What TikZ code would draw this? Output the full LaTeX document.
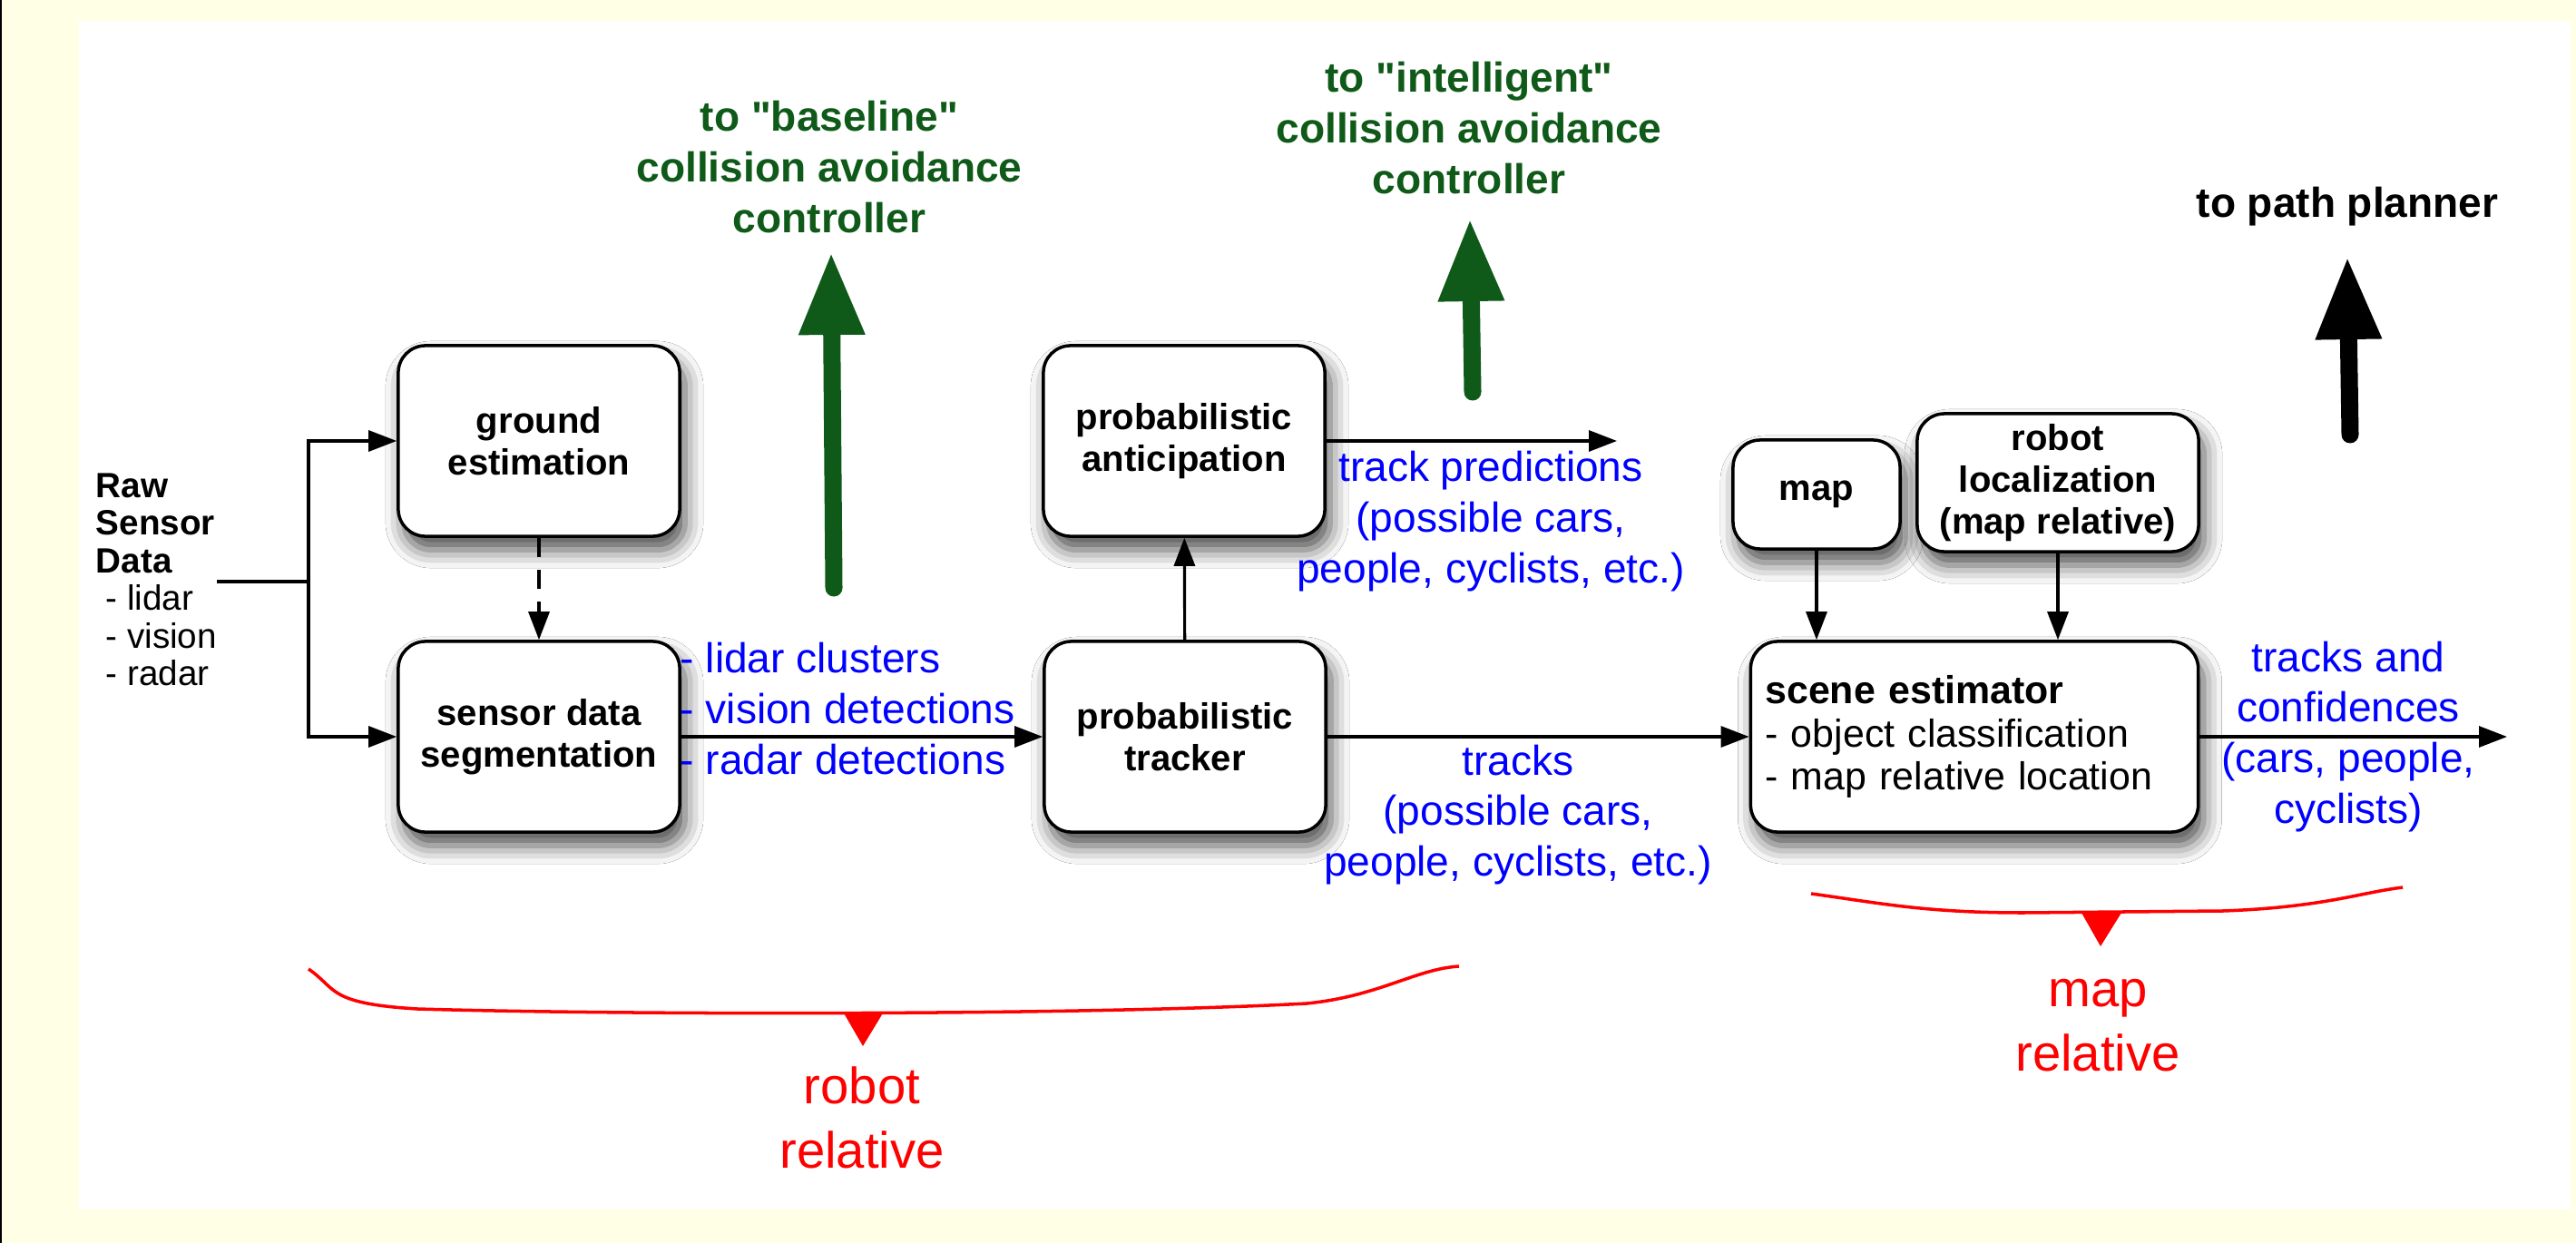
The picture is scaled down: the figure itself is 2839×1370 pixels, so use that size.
\documentclass[tikz,border=0pt]{standalone}
\usepackage{fontspec}
\setmainfont{Liberation Sans}[Ligatures=TeXOff]
\usetikzlibrary{arrows.meta,shadows.blur}

\definecolor{bgyellow}{RGB}{255,255,229}
\definecolor{goalgreen}{RGB}{15,90,25}

\newcommand{\boxfont}{\fontsize{11.4}{13.1}\selectfont\bfseries}
\newcommand{\lblfont}{\fontsize{13.1}{15.9}\selectfont}
\newcommand{\rawfont}{\fontsize{11}{11.8}\selectfont}
\newcommand{\itemfont}{\fontsize{12.2}{13.4}\selectfont}
\newcommand{\zonefont}{\fontsize{16}{20.2}\selectfont}

\tikzset{
  stage/.style={draw, line width=1pt, rounded corners=0.3cm, fill=white,
    blur shadow={shadow xshift=0.06cm, shadow yshift=-0.15cm, shadow blur radius=0.2cm, shadow opacity=70},
    font=\boxfont, align=center, inner sep=2pt, minimum width=3.1cm, minimum height=2.1cm},
  flow/.style={line width=0.9pt, -{Triangle[length=0.31cm,width=0.23cm]}},
  datalabel/.style={text=blue, font=\lblfont, align=center, inner sep=0pt},
  goal/.style={font=\lblfont\bfseries, align=center, inner sep=0pt},
  bigup/.style={line width=0.19cm, line cap=round, -{Triangle[length=0.91cm,width=0.68cm]}},
  brace/.style={red, line width=1pt},
  zone/.style={text=red, font=\zonefont, align=center, inner sep=0pt}
}

\begin{document}
\begin{tikzpicture}[x=0.01cm, y=-0.01cm]

\useasboundingbox (0,0) rectangle (2839,1370);
\fill[bgyellow] (0,0) rectangle (2839,1370);
\fill[white] (87,23) rectangle (2833,1333);
\fill[black] (0,0) rectangle (2,1370);

% processing stages
\node[stage] (ground) at (594,486) {ground\\estimation};
\node[stage] (seg) at (594,812) {sensor data\\segmentation};
\node[stage] (antic) at (1305,486) {probabilistic\\anticipation};
\node[stage] (tracker) at (1306,812) {probabilistic\\tracker};
\node[stage, minimum width=1.84cm, minimum height=1.2cm] (map) at (2002,545) {map};
\node[stage, minimum height=1.52cm] (loc) at (2268,532) {robot\\localization\\(map relative)};
\node[stage, font=\itemfont, align=left, text width=4.61cm, inner xsep=0.16cm] (scene) at (2176,812)
  {\textbf{scene estimator}\\- object classification\\- map relative location};

% raw input
\node[anchor=west, align=left, font=\rawfont, inner sep=0pt] (raw) at (105,639)
  {\textbf{Raw}\\\textbf{Sensor}\\\textbf{Data}\\\hspace*{0.28em}- lidar\\\hspace*{0.28em}- vision\\\hspace*{0.28em}- radar};
\coordinate (rawout) at (239,641);
\coordinate (split) at (340,641);
\draw[line width=0.9pt] (rawout) -- (split);
\draw[flow] (split) |- (ground.west);
\draw[flow] (split) |- (seg.west);
\draw[flow, dash pattern=on 6pt off 4pt] (ground) -- (seg);

% robot relative chain
\node[datalabel, anchor=west, align=left] (dets) at (749,781) {- lidar clusters\\- vision detections\\- radar detections};
\draw[flow] (seg) -- (tracker);
\draw[flow] (tracker) -- (antic);
\coordinate (predend) at (1782,486);
\draw[flow] (antic) -- (predend);
\node[datalabel] (preds) at (1643,575) {track predictions\\(possible cars,\\people, cyclists, etc.)};
\draw[flow] (tracker) -- (scene);
\node[datalabel] (tracks) at (1673,898) {tracks\\(possible cars,\\people, cyclists, etc.)};

% map relative part
\draw[flow] (map) -- (map |- scene.north);
\draw[flow] (loc) -- (loc |- scene.north);
\coordinate (outend) at (2763,812);
\draw[flow] (scene) -- (outend);
\node[datalabel] (conf) at (2588,812) {tracks and\\confidences\\(cars, people,\\cyclists)};

% outputs upward
\node[goal, text=goalgreen] (basetext) at (914,184) {to "baseline"\\collision avoidance\\controller};
\coordinate (basefoot) at (919,648);
\coordinate (basetip) at (916,278);
\draw[bigup, goalgreen] (basefoot) -- (basetip);
\node[goal, text=goalgreen] (inttext) at (1619,141) {to "intelligent"\\collision avoidance\\controller};
\coordinate (intfoot) at (1623,432);
\coordinate (inttip) at (1620,241);
\draw[bigup, goalgreen] (intfoot) -- (inttip);
\node[goal] (plantext) at (2587,228) {to path planner};
\coordinate (planfoot) at (2590,479);
\coordinate (plantip) at (2587,283);
\draw[bigup] (planfoot) -- (plantip);

% frames
\draw[brace] (340,1068) .. controls (372,1090) and (360,1106) .. (460,1112)
  .. controls (700,1119) and (1200,1119) .. (1440,1106)
  .. controls (1520,1098) and (1560,1068) .. (1608,1065);
\fill[red] (929,1115) -- (974,1115) -- (951,1153) -- cycle;
\node[zone] (robotrel) at (950,1232) {robot\\relative};
\draw[brace] (1996,985) .. controls (2070,995) and (2120,1006) .. (2230,1006) -- (2450,1004)
  .. controls (2560,1000) and (2600,984) .. (2648,978);
\fill[red] (2294,1006) -- (2338,1006) -- (2315,1043) -- cycle;
\node[zone] (maprel) at (2312,1130) {map\\relative};

\end{tikzpicture}
\end{document}
